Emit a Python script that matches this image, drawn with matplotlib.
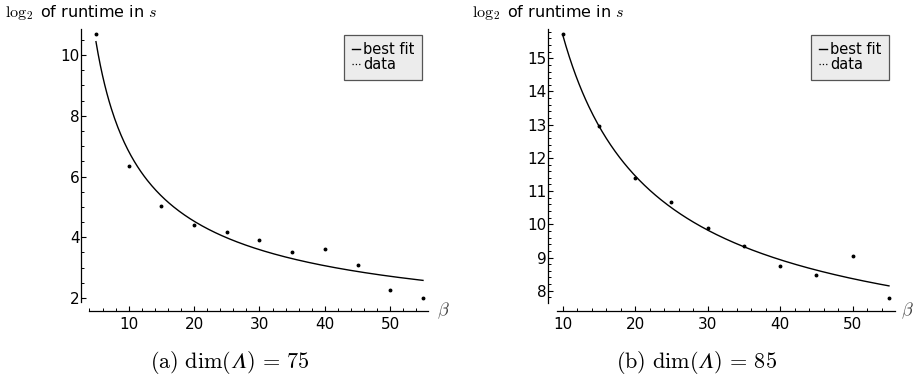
import numpy as np
import matplotlib
matplotlib.use("Agg")
import matplotlib.pyplot as plt
from matplotlib.lines import Line2D
from matplotlib.ticker import FixedLocator

plt.rcParams['mathtext.fontset'] = 'cm'
plt.rcParams['mathtext.fallback'] = 'stix'
plt.rcParams['font.family'] = 'DejaVu Sans'

# data
beta_75 = [5, 10, 15, 20, 25, 30, 35, 40, 45, 50, 55]
log_rt_75 = [10.69, 6.34, 5.04, 4.40, 4.18, 3.92, 3.51, 3.60, 3.08, 2.27, 2.00]
beta_85 = [10, 15, 20, 25, 30, 35, 40, 45, 50, 55]
log_rt_85 = [15.73, 12.97, 11.38, 10.66, 9.88, 9.35, 8.73, 8.47, 9.04, 7.77]

# best fit a + b * beta^(-c), parameters estimated from the drawn curves
fit_75 = (0.486, 28.33, 0.65)
fit_85 = (5.23, 58.9, 0.75)

captions = ["$\\mathrm{(a)}\\ \\dim(\U0001D6EC)\\,=\\,75$",
            "$\\mathrm{(b)}\\ \\dim(\U0001D6EC)\\,=\\,85$"]

fig = plt.figure(figsize=(9.17, 3.83), dpi=100)

panels = [
    dict(rect=[81/917, 72/383, 359/917, 282/383], beta=beta_75, y=log_rt_75, fit=fit_75,
         xlim=(2.71, 57.6), ylim=(1.572, 10.856), xb=(3.93, 55.8), yb=(1.87, 10.856),
         yticks=[2, 4, 6, 8, 10], yminor=np.arange(2.5, 10.8, 0.5),
         xminor=np.arange(4, 55, 2), fit_from=5, cap_x=230, leg_x=422,
         lab_x=5, beta_x=437),
    dict(rect=[548/917, 72/383, 352/917, 282/383], beta=beta_85, y=log_rt_85, fit=fit_85,
         xlim=(7.97, 56.52), ylim=(7.39, 15.88), xb=(9.21, 55.8), yb=(7.63, 15.88),
         yticks=list(range(8, 16)), yminor=np.arange(7.8, 15.85, 0.2),
         xminor=np.arange(12, 55, 2), fit_from=10, cap_x=697, leg_x=889,
         lab_x=472, beta_x=901),
]

for i, p in enumerate(panels):
    ax = fig.add_axes(p['rect'])
    a, b, c = p['fit']
    xs = np.linspace(p['fit_from'], 55, 300)
    ax.plot(xs, a + b * xs ** (-c), color='black', lw=1.0)
    ax.plot(p['beta'], p['y'], ls='none', marker='o', ms=1.8, color='black')

    ax.set_xlim(*p['xlim'])
    ax.set_ylim(*p['ylim'])
    ax.spines['top'].set_visible(False)
    ax.spines['right'].set_visible(False)
    ax.spines['bottom'].set_bounds(*p['xb'])
    ax.spines['left'].set_bounds(*p['yb'])
    for s in ['bottom', 'left']:
        ax.spines[s].set_linewidth(0.9)

    ax.set_xticks([10, 20, 30, 40, 50])
    ax.set_yticks(p['yticks'])
    ax.xaxis.set_minor_locator(FixedLocator(p['xminor']))
    ax.yaxis.set_minor_locator(FixedLocator(p['yminor']))
    ax.tick_params(which='major', direction='in', length=3.5, width=0.8, labelsize=11)
    ax.tick_params(which='minor', direction='in', length=2, width=0.7)
    ax.tick_params(axis='y', pad=1)
    ax.tick_params(axis='x', pad=4)

    fig.text(p['beta_x'] / 917, 1 - 311 / 383, r"$\beta$",
             fontsize=13, color='#444444', ha='left', va='center')
    fig.text(p['lab_x'] / 917, 1 - 13 / 383, r"$\log_2$ of runtime in $s$",
             fontsize=11.5, ha='left', va='center')

    handles = [Line2D([], [], color='black', lw=1.0),
               Line2D([], [], color='black', lw=0.9, ls=':')]
    leg = ax.legend(handles, ['best fit', 'data'], loc='upper right',
                    bbox_to_anchor=(p['leg_x'] / 917, (383 - 35) / 383),
                    bbox_transform=fig.transFigure, fontsize=10.5, handlelength=0.6,
                    handletextpad=0.2, labelspacing=0.0, borderpad=0.5,
                    borderaxespad=0, fancybox=False, framealpha=1)
    leg.get_frame().set_facecolor('#ececec')
    leg.get_frame().set_edgecolor('#555555')
    leg.get_frame().set_linewidth(0.9)

    fig.text(p['cap_x'] / 917, 1 - 362 / 383, captions[i], fontsize=16,
             ha='center', va='center')

fig.savefig('out.png', dpi=100)
